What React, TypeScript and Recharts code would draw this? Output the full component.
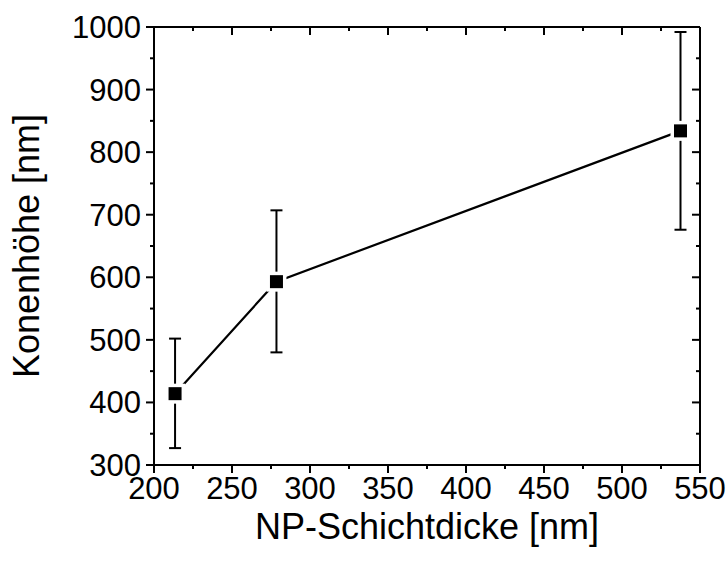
import React from 'react'
import { ComposedChart, XAxis, YAxis, Line, Scatter, ErrorBar } from 'recharts'

const xValues = [213.5, 278.5, 537.5]
const yValues = [414, 593, 834]
const errLow = [87, 113, 158]
const errHigh = [88, 114, 158]

const xTicks = [200, 225, 250, 275, 300, 325, 350, 375, 400, 425, 450, 475, 500, 525, 550]
const yTicks = [300, 350, 400, 450, 500, 550, 600, 650, 700, 750, 800, 850, 900, 950, 1000]

const data = xValues.map((x, i) => ({
  x,
  y: yValues[i],
  err: [errLow[i], errHigh[i]],
}))

const FONT = '"Liberation Sans", Arial, sans-serif'
const MAJOR = 8
const MINOR = 4

function BottomTick({ x, y, payload }: any) {
  const major = payload.value % 50 === 0
  return (
    <g>
      <line x1={x} y1={y} x2={x} y2={y + (major ? MAJOR : MINOR)} stroke="#000" strokeWidth={2} />
      {major && (
        <text x={x} y={y + 34} textAnchor="middle" fontSize={31} fontFamily={FONT} fill="#000">
          {payload.value}
        </text>
      )}
    </g>
  )
}

function TopTick({ x, y, payload }: any) {
  const major = payload.value % 50 === 0
  return <line x1={x} y1={y} x2={x} y2={y + (major ? MAJOR : MINOR)} stroke="#000" strokeWidth={2} />
}

function LeftTick({ x, y, payload }: any) {
  const major = payload.value % 100 === 0
  return (
    <g>
      <line x1={x - (major ? MAJOR : MINOR)} y1={y} x2={x} y2={y} stroke="#000" strokeWidth={2} />
      {major && (
        <text x={x - 13} y={y + 11} textAnchor="end" fontSize={31} fontFamily={FONT} fill="#000">
          {payload.value}
        </text>
      )}
    </g>
  )
}

function RightTick({ x, y, payload }: any) {
  const major = payload.value % 100 === 0
  return <line x1={x - (major ? MAJOR : MINOR)} y1={y} x2={x} y2={y} stroke="#000" strokeWidth={2} />
}

// white halo under the marker so the line stops short of it
function HaloDot({ cx, cy }: any) {
  if (cx == null || cy == null) return null
  return <rect x={cx - 10} y={cy - 10} width={20} height={20} fill="#fff" />
}

function SquareShape({ cx, cy }: any) {
  if (cx == null || cy == null) return null
  return <rect x={cx - 6.5} y={cy - 6.5} width={13} height={13} fill="#000" />
}

const axisLine = { stroke: '#000', strokeWidth: 2 }

export default function App() {
  return (
    <div style={{ position: 'absolute', left: 0, top: 0, width: 728, height: 565, background: '#fff' }}>
      <ComposedChart
        width={728}
        height={565}
        data={data}
        margin={{ top: 26, right: 27, bottom: 99, left: 153 }}
      >
        <XAxis
          xAxisId="bottom"
          type="number"
          dataKey="x"
          domain={[200, 550]}
          ticks={xTicks}
          interval={0}
          height={1}
          tickSize={0}
          tickMargin={0}
          axisLine={axisLine}
          tickLine={false}
          tick={<BottomTick />}
          allowDataOverflow
        />
        <XAxis
          xAxisId="top"
          orientation="top"
          type="number"
          dataKey="x"
          domain={[200, 550]}
          ticks={xTicks}
          interval={0}
          height={1}
          tickSize={0}
          tickMargin={0}
          axisLine={axisLine}
          tickLine={false}
          tick={<TopTick />}
          allowDataOverflow
        />
        <YAxis
          yAxisId="left"
          type="number"
          domain={[300, 1000]}
          ticks={yTicks}
          interval={0}
          width={1}
          tickSize={0}
          tickMargin={0}
          axisLine={axisLine}
          tickLine={false}
          tick={<LeftTick />}
          allowDataOverflow
        />
        <YAxis
          yAxisId="right"
          orientation="right"
          type="number"
          domain={[300, 1000]}
          ticks={yTicks}
          interval={0}
          width={1}
          tickSize={0}
          tickMargin={0}
          axisLine={axisLine}
          tickLine={false}
          tick={<RightTick />}
          allowDataOverflow
        />
        <Line
          xAxisId="bottom"
          yAxisId="left"
          dataKey="y"
          stroke="#000"
          strokeWidth={2.2}
          dot={<HaloDot />}
          activeDot={false}
          isAnimationActive={false}
        />
        <Scatter
          xAxisId="bottom"
          yAxisId="left"
          dataKey="y"
          shape={<SquareShape />}
          isAnimationActive={false}
        >
          <ErrorBar dataKey="err" direction="y" width={6} stroke="#000" strokeWidth={2} />
        </Scatter>
        <text
          x={427}
          y={539}
          textAnchor="middle"
          fontSize={36}
          fontFamily={FONT}
          fill="#000"
        >
          NP-Schichtdicke [nm]
        </text>
        <text
          x={39}
          y={246}
          transform="rotate(-90, 39, 246)"
          textAnchor="middle"
          fontSize={36}
          fontFamily={FONT}
          fill="#000"
        >
          Konenhöhe [nm]
        </text>
      </ComposedChart>
    </div>
  )
}
